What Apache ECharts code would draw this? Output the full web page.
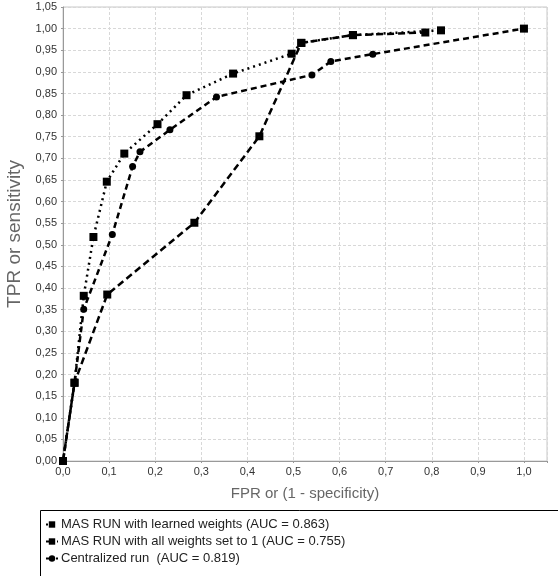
<!DOCTYPE html>
<html><head><meta charset="utf-8">
<script src="https://cdn.jsdelivr.net/npm/echarts@6/dist/echarts.min.js"></script>
<style>html,body{margin:0;padding:0;background:#fff}#c{width:558px;height:576px}</style>
</head><body><div id="c"></div>
<script>
const seriesNames = [
  'MAS RUN with learned weights (AUC = 0.863)',
  'MAS RUN with all weights set to 1 (AUC = 0.755)',
  'Centralized run  (AUC = 0.819)'
];
const fprLearned = [0, 0.025, 0.045, 0.066, 0.095, 0.133, 0.205, 0.268, 0.369, 0.496, 0.517, 0.629, 0.82];
const tprLearned = [0, 0.181, 0.382, 0.518, 0.646, 0.711, 0.779, 0.846, 0.896, 0.942, 0.967, 0.985, 0.996];
const fprAllOne = [0, 0.025, 0.096, 0.285, 0.426, 0.517, 0.629, 0.786];
const tprAllOne = [0, 0.181, 0.385, 0.551, 0.751, 0.967, 0.985, 0.991];
const fprCentral = [0, 0.025, 0.045, 0.107, 0.151, 0.167, 0.232, 0.333, 0.540, 0.581, 0.672, 1.0];
const tprCentral = [0, 0.181, 0.351, 0.524, 0.681, 0.715, 0.766, 0.842, 0.893, 0.924, 0.941, 1.0];

const zip = (xs, ys) => xs.map((x, i) => [x, ys[i]]);
const comma = (v, d) => v.toFixed(d).replace('.', ',');

const centralData = zip(fprCentral, tprCentral).map((p, i, arr) =>
  i === arr.length - 1 ? { value: p, symbol: 'rect', symbolSize: 8 } : p);

const chart = echarts.init(document.getElementById('c'), null, { renderer: 'canvas' });
chart.setOption({
  backgroundColor: '#fff',
  animation: false,
  grid: { left: 63, right: 11, top: 7, bottom: 115, show: true, borderColor: '#c8c8c8', borderWidth: 1,
          containLabel: false, outerBoundsMode: 'none' },
  xAxis: {
    type: 'value', min: 0, max: 1.05, interval: 0.1,
    name: 'FPR or (1 - specificity)', nameLocation: 'middle', nameGap: 25,
    nameTextStyle: { fontFamily: 'Liberation Sans', fontSize: 15, color: '#666' },
    axisLine: { show: true, lineStyle: { color: '#999', width: 1 } },
    axisTick: { show: true, length: 2, lineStyle: { color: '#999' } },
    axisLabel: { fontFamily: 'Liberation Sans', fontSize: 11, color: '#333', margin: 5,
      formatter: v => v > 1.001 ? '' : comma(v, 1) },
    splitLine: { show: true, lineStyle: { color: '#d8d8d8', type: [3, 2], width: 1 } }
  },
  yAxis: {
    type: 'value', min: 0, max: 1.05, interval: 0.05,
    name: 'TPR or sensitivity', nameLocation: 'middle', nameGap: 35,
    nameTextStyle: { fontFamily: 'Liberation Sans', fontSize: 19, color: '#666' },
    axisLine: { show: true, lineStyle: { color: '#999', width: 1 } },
    axisTick: { show: true, length: 2, lineStyle: { color: '#999' } },
    axisLabel: { fontFamily: 'Liberation Sans', fontSize: 11, color: '#333', margin: 6,
      formatter: v => comma(v, 2) },
    splitLine: { show: true, lineStyle: { color: '#d8d8d8', type: [3, 2], width: 1 } }
  },
  legend: {
    orient: 'vertical', left: 40, top: 513, itemGap: 4, itemWidth: 12, itemHeight: 8,
    textStyle: { fontFamily: 'Liberation Sans', fontSize: 13, color: '#222', padding: [0, 0, 0, -2] },
    data: seriesNames
  },
  graphic: [{
    type: 'rect', left: 38, top: 508, shape: { width: 540, height: 90 },
    style: { fill: 'none', stroke: '#000', lineWidth: 1 }, silent: true
  }],
  series: [
    { name: seriesNames[0], type: 'line', data: zip(fprLearned, tprLearned),
      symbol: 'rect', symbolSize: 8, showAllSymbol: true,
      lineStyle: { color: '#000', width: 2.5, type: [2, 4] }, itemStyle: { color: '#000' } },
    { name: seriesNames[1], type: 'line', data: zip(fprAllOne, tprAllOne),
      symbol: 'rect', symbolSize: 8, showAllSymbol: true,
      lineStyle: { color: '#000', width: 2.5, type: [7, 4] }, itemStyle: { color: '#000' } },
    { name: seriesNames[2], type: 'line', data: centralData,
      symbol: 'circle', symbolSize: 7, showAllSymbol: true,
      lineStyle: { color: '#000', width: 2.5, type: [6, 4] }, itemStyle: { color: '#000' } }
  ]
});
</script></body></html>
